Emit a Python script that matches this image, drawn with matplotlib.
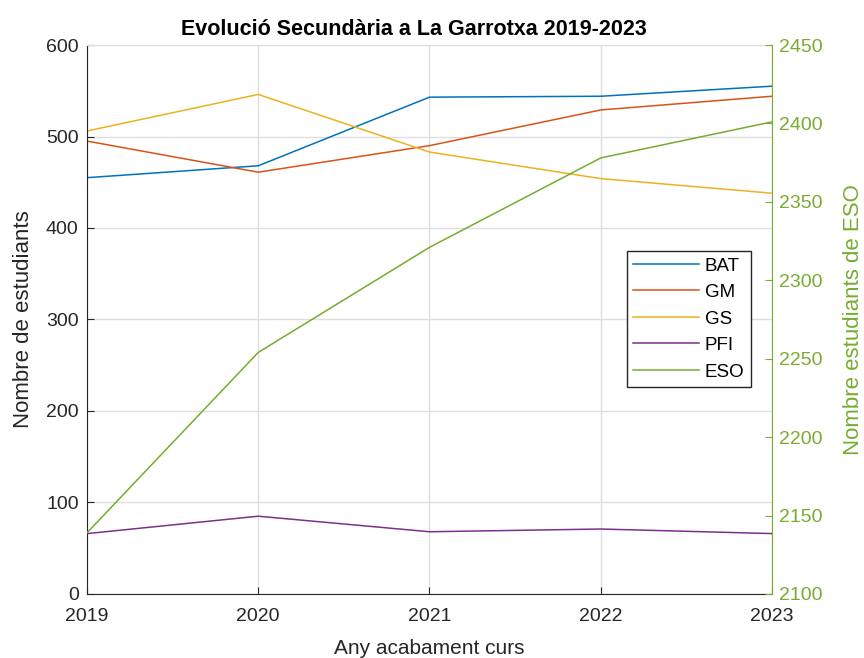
import matplotlib
matplotlib.use("Agg")
import matplotlib.pyplot as plt

plt.rcParams['font.family'] = ['Liberation Sans', 'DejaVu Sans']

anys = [2019, 2020, 2021, 2022, 2023]
bat = [455, 468, 543, 544, 555]
gm = [495, 461, 490, 529, 544]
gs = [506, 546, 483, 454, 438]
pfi = [66, 85, 68, 71, 66]
eso = [2139, 2254, 2321, 2378, 2401]

c_bat = (0, 0.447, 0.741)
c_gm = (0.85, 0.325, 0.098)
c_gs = (0.929, 0.694, 0.125)
c_pfi = (0.494, 0.184, 0.556)
c_eso = (0.466, 0.674, 0.188)
txt = (0.15, 0.15, 0.15)

fig = plt.figure(figsize=(8.64, 6.58), dpi=100)
ax = fig.add_axes([0.1007, 0.0973, 0.7928, 0.8343])

l1, = ax.plot(anys, bat, color=c_bat, lw=1.1, label='BAT')
l2, = ax.plot(anys, gm, color=c_gm, lw=1.1, label='GM')
l3, = ax.plot(anys, gs, color=c_gs, lw=1.1, label='GS')
l4, = ax.plot(anys, pfi, color=c_pfi, lw=1.1, label='PFI')
ax.set_xlim(2019, 2023)
ax.set_ylim(0, 600)
ax.set_xticks(anys)
ax.set_yticks(range(0, 601, 100))
ax.grid(True, color=(0.87, 0.87, 0.87), lw=1)
ax.set_axisbelow(True)
ax.tick_params(direction='in', labelsize=14, colors=txt, length=5)
ax.tick_params(axis='x', pad=10)
ax.tick_params(axis='y', pad=6)
ax.spines['top'].set_color((0.87, 0.87, 0.87))
ax.spines['left'].set_color(txt)
ax.spines['bottom'].set_color(txt)
ax.spines['right'].set_visible(False)
ax.set_xlabel('Any acabament curs', fontsize=15, color=txt)
ax.xaxis.set_label_coords(0.5, -0.082)
ax.set_ylabel('Nombre de estudiants', fontsize=16, color=txt)
ax.yaxis.set_label_coords(-0.078, 0.5)
ax.set_title('Evolució Secundària a La Garrotxa 2019-2023', fontsize=15.5,
             fontweight='bold', color='black', pad=7, x=0.477)

ax2 = ax.twinx()
l5, = ax2.plot(anys, eso, color=c_eso, lw=1.1, label='ESO')
ax2.set_ylim(2100, 2450)
ax2.set_yticks(range(2100, 2451, 50))
ax2.tick_params(direction='in', labelsize=14, colors=c_eso, length=5, pad=5)
ax2.spines['right'].set_color(c_eso)
ax2.spines['top'].set_visible(False)
ax2.spines['left'].set_visible(False)
ax2.spines['bottom'].set_visible(False)
ax2.set_ylabel('Nombre estudiants de ESO', fontsize=16, color=c_eso)
ax2.yaxis.set_label_coords(1.103, 0.5)

leg = ax2.legend(handles=[l1, l2, l3, l4, l5], loc='upper left',
                 bbox_to_anchor=(0.788, 0.625), fontsize=13.5, fancybox=False,
                 framealpha=1, edgecolor=txt, handlelength=3.5,
                 borderpad=0.35, labelspacing=0.5, handletextpad=0.3,
                 borderaxespad=0)
leg.get_frame().set_linewidth(1)

fig.savefig('out.png', dpi=100)
